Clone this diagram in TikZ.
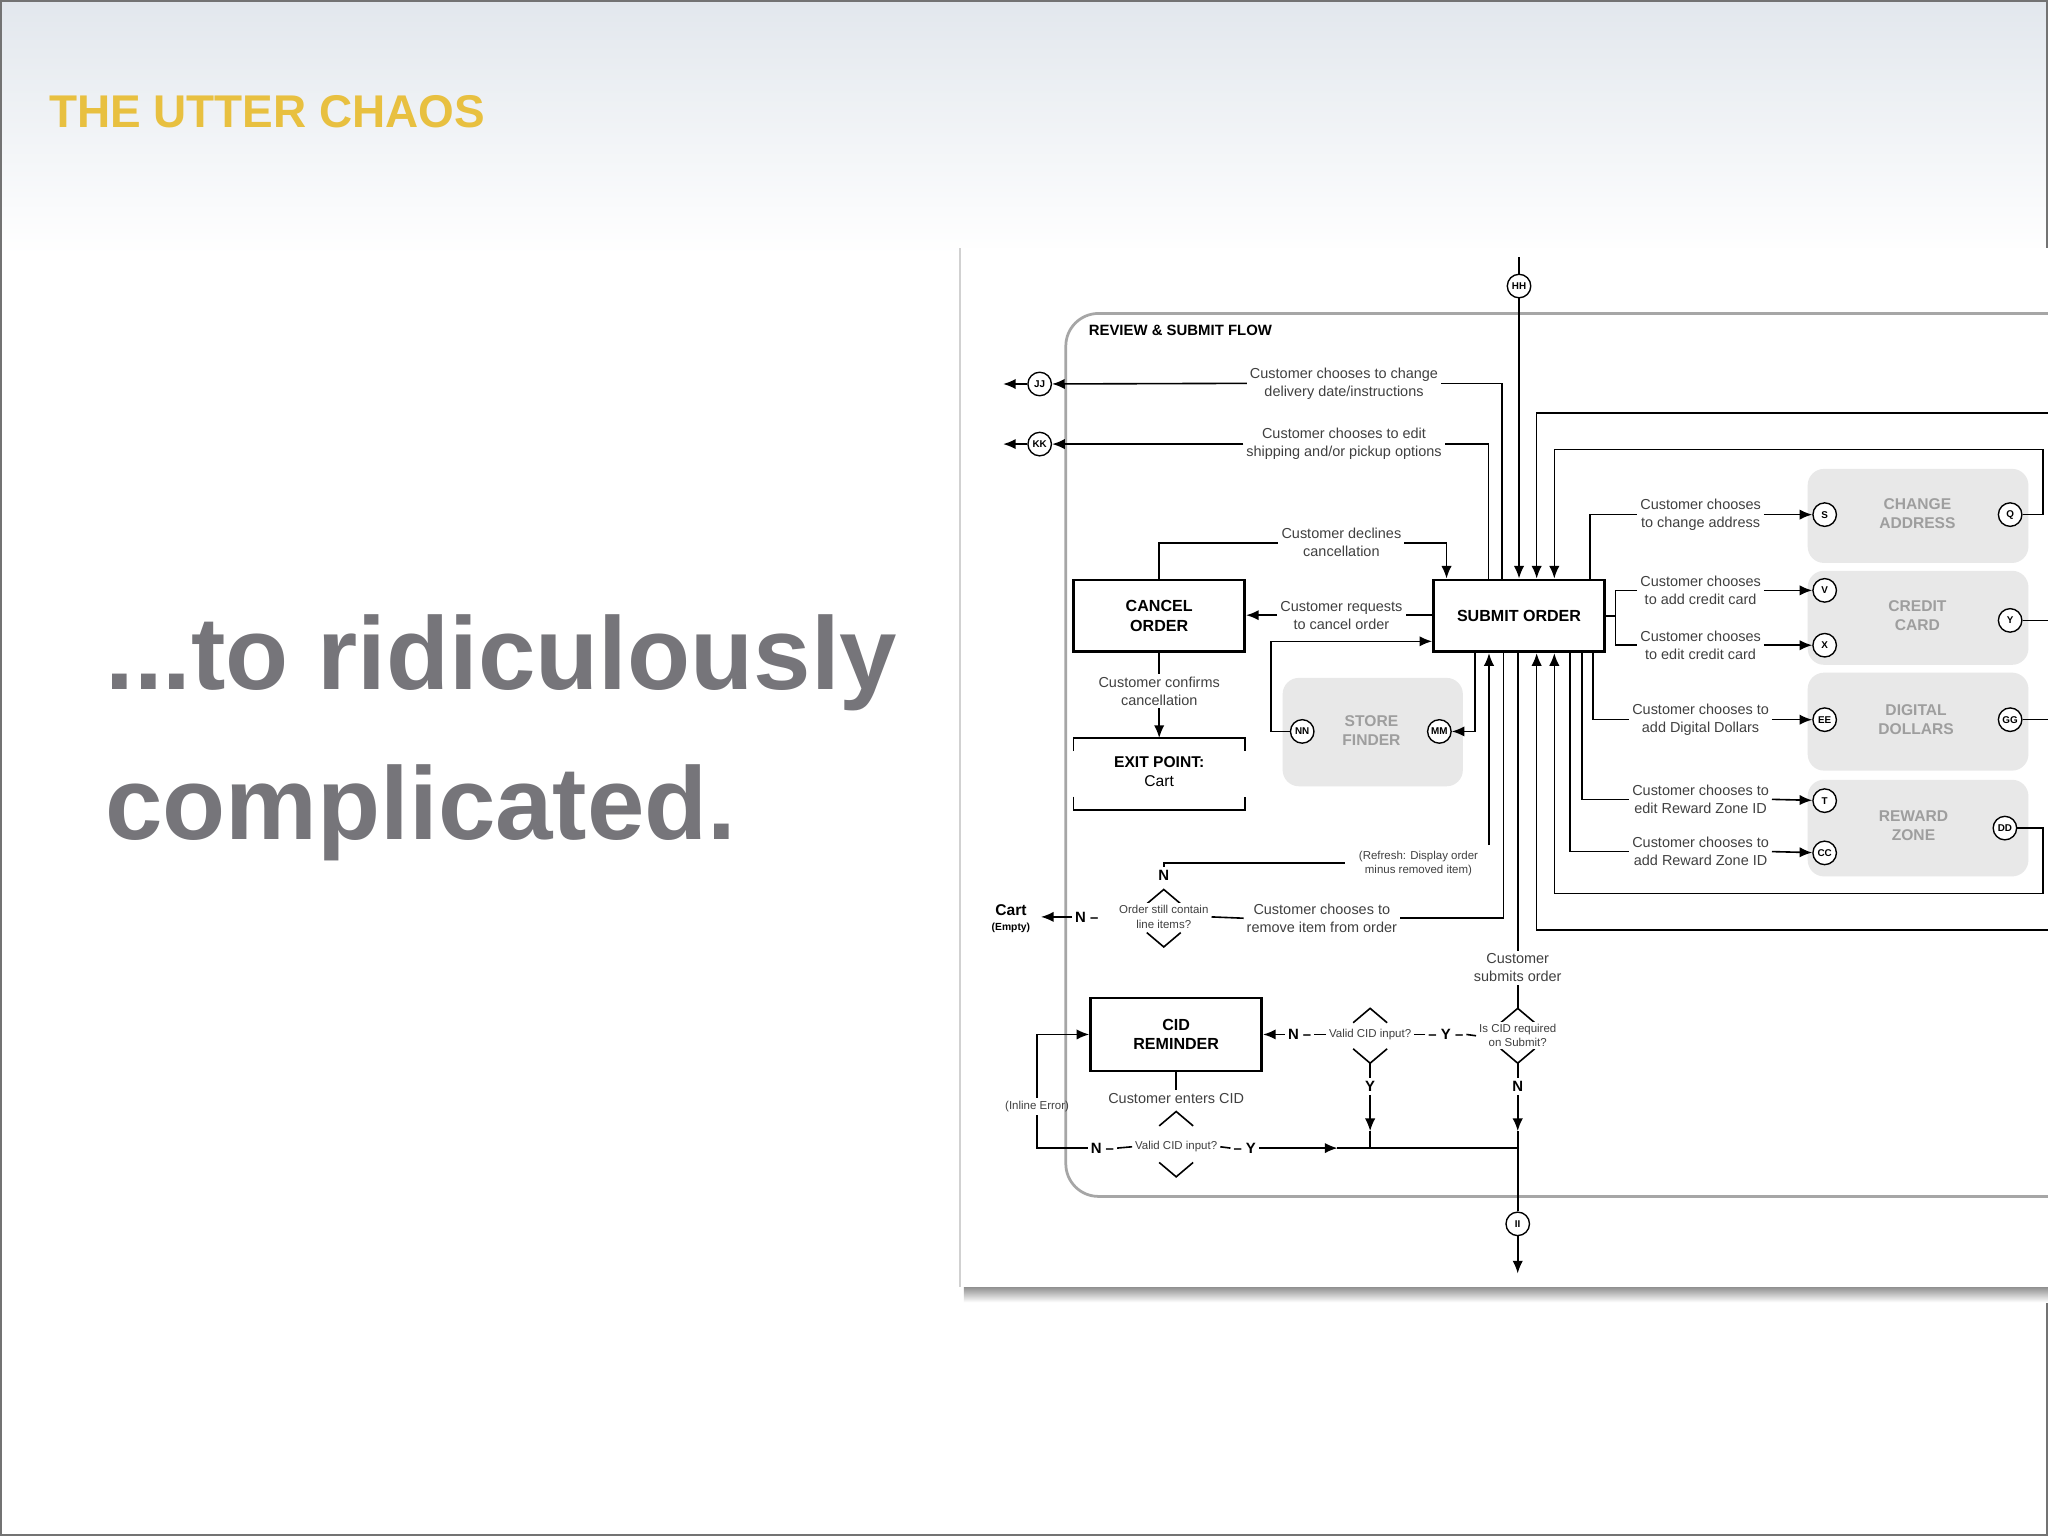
\documentclass[tikz,border=0pt]{standalone}
\usepackage{fontspec}
\setmainfont{Liberation Sans}
\usetikzlibrary{arrows.meta,shapes.geometric}
\definecolor{hdr}{RGB}{226,231,237}
\begin{document}
\begin{tikzpicture}[x=0.02cm,y=-0.02cm, line width=0.7pt,
 ar/.style={-{Latex[length=5.5pt,width=4.5pt]}},
 lbl/.style={font=\fontsize{6.3}{7.8}\selectfont, align=center, inner sep=1pt, text=black!75},
 sm/.style={font=\fontsize{5}{6.2}\selectfont, align=center, inner sep=1pt, text=black!75},
 yn/.style={font=\fontsize{6.5}{7}\selectfont\bfseries, inner sep=1pt},
 circ/.style={circle,draw,line width=0.6pt,minimum size=0.36cm,inner sep=0pt,font=\fontsize{4.3}{5}\selectfont\bfseries, fill=white},
 box/.style={draw,line width=1.2pt,align=center,font=\fontsize{7}{8.5}\selectfont\bfseries},
 gbox/.style={fill=black!9, rounded corners=0.25cm, draw=none},
 gtxt/.style={text=black!38, font=\fontsize{6.8}{8.3}\selectfont\bfseries, align=center}]
\useasboundingbox (0,0) rectangle (1568,1176);
\fill[white] (0,0) rectangle (1568,1176);
\shade[top color=hdr, bottom color=white] (0,0) rectangle (1568,195);
\draw[black!55, line width=0.8pt] (0.5,0.5) rectangle (1567.5,1175.5);
% slide text
\node[anchor=base west, inner sep=0, text={rgb,255:red,232;green,192;blue,64}, font=\fontsize{20}{24}\selectfont\bfseries] (title) at (37,98) {THE UTTER CHAOS};
\node[anchor=base west, inner sep=0, text={rgb,255:red,118;green,117;blue,122}, font=\fontsize{45}{55}\selectfont\bfseries] (l1) at (80,528) {...to ridiculously};
\node[anchor=base west, inner sep=0, text={rgb,255:red,118;green,117;blue,122}, font=\fontsize{45}{55}\selectfont\bfseries] (l2) at (80,643) {complicated.};
% panel
\shade[top color=black!45, bottom color=white] (738,985) rectangle (1568,997);
\fill[white] (735,190) rectangle (1568,985);
\draw[black!18] (735,190) -- (735,985);
\draw[black!35, line width=1.2pt, rounded corners=0.5cm] (1568,240) -- (816,240) -- (816,916) -- (1568,916);
\node[anchor=west, font=\fontsize{6.5}{8}\selectfont\bfseries, inner sep=0] (flow) at (833,253) {REVIEW \& SUBMIT FLOW};
% gray boxes
\fill[gbox] (982,519) rectangle (1120,602);
\fill[gbox] (1384,359) rectangle (1553,431);
\fill[gbox] (1384,437) rectangle (1553,509);
\fill[gbox] (1384,515) rectangle (1553,590);
\fill[gbox] (1384,597) rectangle (1553,671);
\node[gtxt] (sf) at (1050,559) {STORE\\FINDER};
\node[gtxt] (ca) at (1468,393) {CHANGE\\ADDRESS};
\node[gtxt] (cc) at (1468,471) {CREDIT\\CARD};
\node[gtxt] (dd) at (1467,551) {DIGITAL\\DOLLARS};
\node[gtxt] (rz) at (1465,632) {REWARD\\ZONE};
% main boxes
\node[box, minimum width=2.62cm, minimum height=1.1cm] (sub) at (1163,471.5) {SUBMIT ORDER};
\node[box, minimum width=2.62cm, minimum height=1.1cm] (can) at (887.5,471.5) {CANCEL\\ORDER};
\node[box, minimum width=2.62cm, minimum height=1.12cm] (cid) at (900.5,792) {CID\\REMINDER};
% circles
\node[circ] (HH) at (1163,219) {HH};
\node[circ] (JJ) at (796,294) {JJ};
\node[circ] (KK) at (796,340) {KK};
\node[circ] (NN) at (997,560) {NN};
\node[circ] (MM) at (1102,560) {MM};
\node[circ] (S) at (1397,394) {S};
\node[circ] (Q) at (1539,394) {Q};
\node[circ] (V) at (1397,452) {V};
\node[circ] (X) at (1397,494) {X};
\node[circ] (Y) at (1539,475) {Y};
\node[circ] (EE) at (1397,551) {EE};
\node[circ] (GG) at (1539,551) {GG};
\node[circ] (T) at (1397,613) {T};
\node[circ] (CC) at (1397,653) {CC};
\node[circ] (DD) at (1535,634) {DD};
\node[circ] (II) at (1162,937) {II};
\coordinate (hhtop) at (1163,197);
% labels
\node[lbl] (tjj) at (1029,293.5) {Customer chooses to change\\delivery date/instructions};
\node[lbl] (tkk) at (1029,340) {Customer chooses to edit\\shipping and/or pickup options};
\node[lbl] (tdec) at (1027,415.5) {Customer declines\\cancellation};
\node[lbl] (treq) at (1027,471) {Customer requests\\to cancel order};
\node[lbl] (tconf) at (887.5,529) {Customer confirms\\cancellation};
\node[lbl] (ts) at (1302,394) {Customer chooses\\to change address};
\node[lbl] (tv) at (1302,452) {Customer chooses\\to add credit card};
\node[lbl] (tx) at (1302,494) {Customer chooses\\to edit credit card};
\node[lbl] (tee) at (1302,551) {Customer chooses to\\add Digital Dollars};
\node[lbl] (tt) at (1302,612) {Customer chooses to\\edit Reward Zone ID};
\node[lbl] (tcc) at (1302,652) {Customer chooses to\\add Reward Zone ID};
\node[sm] (tref) at (1086,661) {(Refresh: Display order\\minus removed item)};
\node[lbl] (trem) at (1012,703) {Customer chooses to\\remove item from order};
\node[lbl] (tsubm) at (1162,741) {Customer\\submits order};
\node[lbl] (tent) at (900.5,841) {Customer enters CID};
\node[sm] (tinl) at (794,847) {(Inline Error)};
% exit point
\draw (822,575) -- (822,565) -- (953,565) -- (953,575);
\draw (822,610) -- (822,620) -- (953,620) -- (953,610);
\node[align=center, inner sep=0, font=\fontsize{6.8}{8.3}\selectfont] (exit) at (887.5,591) {\textbf{EXIT POINT:}\\Cart};
\coordinate (exittop) at (887.5,565);
% cart
\node[align=center, inner sep=0, font=\fontsize{6.8}{8}\selectfont\bfseries] (cart) at (774,697) {Cart};
\node[inner sep=0, font=\fontsize{4.5}{5}\selectfont\bfseries] (empty) at (774,710) {(Empty)};
% diamonds (chevrons) + texts
\newcommand{\chev}[4]{\draw (#1-#3,#2-#4+11) -- (#1,#2-#4) -- (#1+#3,#2-#4+11); \draw (#1-#3,#2+#4-11) -- (#1,#2+#4) -- (#1+#3,#2+#4-11);}
\chev{891}{703}{13}{22}
\chev{1162}{793}{13}{21}
\chev{1049}{793}{13}{21}
\chev{900.5}{876}{13}{25}
\node[sm, fill=white] (d1) at (891,702) {Order still contain\\line items?};
\node[sm, fill=white] (d2) at (1162,793) {Is CID required\\on Submit?};
\node[sm, fill=white] (d3) at (1049,792) {Valid CID input?};
\node[sm, fill=white] (d4) at (900.5,878) {Valid CID input?};
\node[yn] (n1) at (891,670) {N};
\node[yn] (n2) at (832,702) {N –};
\node[yn] (y2) at (1107,792) {– Y –};
\node[yn] (n3) at (995,792) {N –};
\node[yn] (y3) at (1049,832) {Y};
\node[yn] (n4) at (1162,832) {N};
\node[yn] (n5) at (844,879) {N –};
\node[yn] (y5) at (953,879) {– Y};
% connectors top
\draw (hhtop) -- (HH);
\draw[ar] (HH) -- (sub.north -| HH);
\draw (sub.north -| 1150,0) |- (tjj.east);
\draw[ar] (tjj.west) -- (JJ);
\draw[ar] (JJ) -- ++(-28,0);
\draw (sub.north -| 1139.5,0) |- (tkk.east);
\draw[ar] (tkk.west) -- (KK);
\draw[ar] (KK) -- ++(-28,0);
\draw (can.north) |- (tdec.west);
\draw[ar] (tdec.east) -| (sub.north -| 1107.5,0);
\draw[ar] (1568,316) -| (sub.north -| 1176.5,0);
\draw[ar] (Q) -- (1564,394) |- (1190,344) -- (sub.north -| 1190,0);
\draw (sub.north -| 1217.5,0) |- (ts.west);
\draw[ar] (ts.east) -- (S);
% right side
\draw (sub.east) -- (1237,471.5);
\draw (tv.west) -| (1237,471.5) |- (tx.west);
\draw[ar] (tv.east) -- (V);
\draw[ar] (tx.east) -- (X);
\draw (Y) -- (1568,475);
\draw (GG) -- (1568,551);
\draw (sub.south -| 1219.5,0) |- (tee.west);
\draw[ar] (tee.east) -- (EE);
\draw (sub.south -| 1211,0) |- (tt.west);
\draw[ar] (tt.east) -- (T);
\draw (sub.south -| 1202,0) |- (tcc.west);
\draw[ar] (tcc.east) -- (CC);
\draw[ar] (DD) -- (1564,634) |- (1190,684) -- (sub.south -| 1190,0);
\draw[ar] (1568,712) -| (sub.south -| 1176.5,0);
% left side
\draw[ar] (treq.west) -- (can.east |- treq.west);
\draw (sub.west |- treq.east) -- (treq.east);
\draw[ar] (NN) -- (973,560) |- (sub.west |- 0,491);
\draw[ar] (sub.south -| 1129.5,0) |- (MM);
\draw (can.south) -- (tconf.north);
\draw[ar] (tconf.south) -- (exittop);
% remove item
\draw (sub.south -| 1151,0) |- (trem.east);
\draw (trem.west) -- (d1.east);
\draw[ar] (n2.west) -- (797,702);
\draw (n1.north) |- (1030,660.5);
\draw[ar] (1140,647) -- (sub.south -| 1140,0);
% submit / CID
\draw (sub.south -| 1162,0) -- (tsubm.north);
\draw (tsubm.south) -- (1162,772);
\draw (d2.west) -- (y2.east);
\draw (y2.west) -- (d3.east);
\draw (d3.west) -- (n3.east);
\draw[ar] (n3.west) -- (cid.east |- n3.west);
\draw (1049,814) -- (y3.north);
\draw (1162,814) -- (n4.north);
\draw[ar] (y3.south) -- (1049,866);
\draw (1049,866) -- (1049,879);
\draw[ar] (n4.south) -- (1162,866);
\draw (1162,866) -- (1162,879);
\draw (cid.south) -- (tent.north);
\draw (n5.east) -- (d4.west);
\draw (d4.east) -- (y5.west);
\draw[ar] (y5.east) -- (1024,879);
\draw (1024,879) -- (1162,879);
\draw (n5.west) -| (tinl.south);
\draw[ar] (tinl.north) |- (cid.west |- 0,792);
\draw (1162,879) -- (II);
\draw[ar] (II) -- (1162,975);
\end{tikzpicture}
\end{document}
